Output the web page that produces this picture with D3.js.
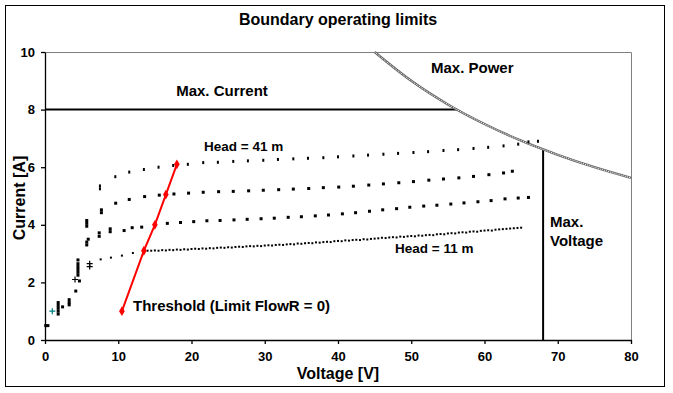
<!DOCTYPE html>
<html>
<head>
<meta charset="utf-8">
<script src="https://cdn.jsdelivr.net/npm/d3@7"></script>
<style>
  body { margin: 0; background: #fff; }
  text { font-family: Arial, "Liberation Sans", sans-serif; font-weight: bold; fill: #000; }
</style>
</head>
<body>
<svg id="chart" width="673" height="393"></svg>
<script>
// axis ticks
const xTicks = [0, 10, 20, 30, 40, 50, 60, 70, 80];
const yTicks = [0, 2, 4, 6, 8, 10];

// measured points [voltage, current] per pump head
const head41 = [[7.5,5.25],[7.5,5.35],[9.6,5.67],[11.5,5.83],[13.5,5.92],[15.5,6.0],[17.5,6.06],[19.5,6.1],
  [21.6,6.16],[23.6,6.17],[25.7,6.2],[27.7,6.22],[29.8,6.24],[31.8,6.27],[33.9,6.29],[35.9,6.31],[38.0,6.33],
  [40.0,6.36],[42.1,6.39],[44.1,6.42],[46.2,6.45],[48.2,6.48],[50.3,6.51],[52.3,6.54],[54.4,6.58],[56.4,6.61],
  [58.5,6.65],[60.5,6.69],[62.6,6.74],[64.6,6.8],[66.0,6.88],[67.3,6.9]];
const head31 = [[7.7,4.42],[7.7,4.52],[9.65,4.75],[11.5,4.88],[13.6,4.98],[15.6,5.03],[17.6,5.07],[19.6,5.1],
  [21.6,5.13],[23.7,5.15],[25.7,5.16],[27.8,5.18],[29.8,5.2],[31.9,5.22],[33.9,5.24],[36.0,5.26],[38.0,5.29],
  [40.1,5.31],[42.1,5.34],[44.2,5.38],[46.2,5.42],[48.3,5.46],[50.3,5.5],[52.4,5.55],[54.4,5.59],[56.5,5.63],
  [58.5,5.68],[60.6,5.74],[62.6,5.8],[63.8,5.86]];
const head21 = [[7.4,3.6],[7.4,3.72],[8.9,3.76],[8.9,3.86],[10.8,3.8],[11.9,3.9],[13.2,3.92],[15.0,4.0],
  [16.7,4.05],[18.5,4.08],[20.3,4.11],[22.1,4.14],[23.9,4.15],[25.8,4.17],[27.6,4.19],[29.5,4.21],[31.3,4.23],
  [33.2,4.26],[35.0,4.28],[36.9,4.31],[38.7,4.34],[40.6,4.38],[42.4,4.42],[44.3,4.47],[46.1,4.52],[48.0,4.56],
  [49.8,4.61],[51.7,4.65],[53.5,4.68],[55.4,4.72],[57.2,4.76],[59.1,4.8],[60.9,4.84],[62.8,4.9],[64.6,4.93],[66.0,4.95]];
const head11 = [[7.6,2.8],[9.0,2.86],[10.5,2.93],[12.0,3.02],[13.5,3.08],
  [14.0,3.1],[14.5,3.1],[15.0,3.11],[15.5,3.1],[16.0,3.12],[16.5,3.11],[17.0,3.13],[17.5,3.12],[18.0,3.14],
  [18.5,3.13],[19.0,3.15],[19.5,3.14],[20.0,3.16],[20.5,3.17],[21.0,3.16],[21.5,3.18],[22.0,3.17],[22.5,3.19],
  [23.0,3.18],[23.5,3.2],[24.0,3.21],[24.5,3.2],[25.0,3.22],[25.5,3.21],[26.0,3.23],[26.5,3.24],[27.0,3.23],
  [27.5,3.25],[28.0,3.26],[28.5,3.25],[29.0,3.27],[29.5,3.26],[30.0,3.28],[30.5,3.29],[31.0,3.28],[31.5,3.3],
  [32.0,3.31],[32.5,3.3],[33.0,3.32],[33.5,3.33],[34.0,3.32],[34.5,3.35],[35.0,3.34],[35.5,3.36],[36.0,3.37],
  [36.5,3.36],[37.0,3.39],[37.5,3.38],[38.0,3.4],[38.5,3.41],[39.0,3.4],[39.5,3.43],[40.0,3.44],[40.5,3.43],
  [41.0,3.46],[41.5,3.45],[42.0,3.47],[42.5,3.48],[43.0,3.47],[43.5,3.5],[44.0,3.49],[44.5,3.51],[45.0,3.52],
  [45.5,3.53],[46.0,3.55],[46.5,3.54],[47.0,3.56],[47.5,3.57],[48.0,3.56],[48.5,3.59],[49.0,3.58],[49.5,3.6],
  [50.0,3.61],[50.5,3.6],[51.0,3.63],[51.5,3.62],[52.0,3.64],[52.5,3.65],[53.0,3.64],[53.5,3.67],[54.0,3.68],
  [54.5,3.67],[55.0,3.7],[55.5,3.71],[56.0,3.7],[56.5,3.73],[57.0,3.74],[57.5,3.73],[58.0,3.76],[58.5,3.77],
  [59.0,3.76],[59.5,3.79],[60.0,3.8],[60.5,3.81],[61.0,3.8],[61.5,3.83],[62.0,3.84],[62.5,3.85],[63.0,3.86],
  [63.5,3.87],[64.0,3.88],[64.5,3.89],[65.0,3.9]];
// start-up points at low voltage
const startup = [[0.1,0.5],[0.4,0.5],[1.8,0.9],[1.8,1.0],[1.8,1.1],[1.8,1.2],[1.8,1.3],[2.4,1.15],[3.3,1.22],
  [3.3,1.3],[3.3,1.4],[4.2,1.7],[4.7,2.05],[4.5,2.25],[4.5,2.35],[4.5,2.45],[4.5,2.55],[4.5,2.65],[4.5,2.78],
  [5.7,3.3],[5.7,3.4],[5.9,3.5],[5.7,3.95],[5.7,4.05],[5.7,4.15]];
const crosses = [[4.1,2.1],[6.1,2.55],[6.1,2.65]];
const tealCross = [[1.0,1.0]];

// threshold (limit flow rate = 0)
const thresholdV = [10.5, 13.5, 15.0, 16.5, 18.0];
const thresholdI = [1.0, 3.1, 4.0, 5.05, 6.1];

// operating limits
const maxCurrent = 8;
const maxVoltage = 68;
const powerV = [45, 50, 55, 60, 65, 70, 75, 80];
const powerI = [10, 9.0, 8.18, 7.5, 6.92, 6.43, 6.0, 5.63];

const svg = d3.select('#chart');
const x = d3.scaleLinear().domain([0, 80]).range([45, 631]);
const y = d3.scaleLinear().domain([0, 10]).range([340, 52]);

// outer frame
svg.append('rect')
    .attr('x', 5.5).attr('y', 5.5).attr('width', 659).attr('height', 381)
    .attr('fill', 'none').attr('stroke', '#000').attr('stroke-width', 1);

// plot frame (top/right grey)
svg.append('path')
    .attr('d', `M${x(0)},${y(10) + 0.5}H${x(80) + 0.5}V${y(0)}`)
    .attr('fill', 'none').attr('stroke', '#808080').attr('stroke-width', 1);

svg.append('text')
    .attr('x', 338).attr('y', 25).attr('text-anchor', 'middle')
    .style('font-size', '16px').text('Boundary operating limits');

// axes
const xAxis = svg.append('g')
    .attr('transform', `translate(0,${y(0)})`)
    .call(d3.axisBottom(x).tickValues(xTicks).tickSize(4).tickSizeOuter(0).tickPadding(8));
const yAxis = svg.append('g')
    .attr('transform', `translate(${x(0)},0)`)
    .call(d3.axisLeft(y).tickValues(yTicks).tickSize(4).tickSizeOuter(0).tickPadding(6));
[xAxis, yAxis].forEach(g => {
    g.selectAll('path, line').attr('stroke', '#000').attr('stroke-width', 1.3);
    g.selectAll('text').style('font-size', '13px').style('font-family', 'Arial, "Liberation Sans", sans-serif')
        .style('font-weight', 'bold').attr('fill', '#000');
});

svg.append('text')
    .attr('x', 338).attr('y', 379).attr('text-anchor', 'middle')
    .style('font-size', '16px').text('Voltage [V]');
svg.append('text')
    .attr('transform', 'translate(25,198) rotate(-90)').attr('text-anchor', 'middle')
    .style('font-size', '16px').text('Current [A]');

// limit lines
svg.append('line')
    .attr('x1', x(0)).attr('x2', x(450 / maxCurrent))
    .attr('y1', y(maxCurrent)).attr('y2', y(maxCurrent))
    .attr('stroke', '#000').attr('stroke-width', 2);
svg.append('line')
    .attr('x1', x(maxVoltage)).attr('x2', x(maxVoltage))
    .attr('y1', y(0)).attr('y2', y(450 / maxVoltage))
    .attr('stroke', '#000').attr('stroke-width', 2);

const powerLine = d3.line().x(d => x(d[0])).y(d => y(d[1])).curve(d3.curveMonotoneX);
const powerPts = powerV.map((v, i) => [v, powerI[i]]);
svg.append('path').attr('d', powerLine(powerPts))
    .attr('fill', 'none').attr('stroke', '#666').attr('stroke-width', 2.4);
svg.append('path').attr('d', powerLine(powerPts))
    .attr('fill', 'none').attr('stroke', '#fff').attr('stroke-width', 1).attr('stroke-dasharray', '1,1');

// measured points
function marks(data, w, h) {
    svg.append('g').selectAll('rect').data(data).join('rect')
        .attr('x', d => x(d[0]) - w / 2).attr('y', d => y(d[1]) - h / 2)
        .attr('width', w).attr('height', h).attr('fill', '#000');
}
marks(head41, 2, 3);
marks(head31, 3, 3);
marks(head21, 3, 3);
marks(head11, 2, 2);
marks(startup, 3, 3);

function plus(data, color) {
    svg.append('g').selectAll('path').data(data).join('path')
        .attr('d', d => `M${x(d[0]) - 3},${y(d[1])}h6M${x(d[0])},${y(d[1]) - 3}v6`)
        .attr('stroke', color).attr('stroke-width', 1.2);
}
plus(crosses, '#000');
plus(tealCross, '#008080');

// threshold line
const thr = thresholdV.map((v, i) => [v, thresholdI[i]]);
svg.append('path').attr('d', d3.line().x(d => x(d[0])).y(d => y(d[1]))(thr))
    .attr('fill', 'none').attr('stroke', '#ff0000').attr('stroke-width', 2);
svg.append('g').selectAll('path').data(thr).join('path')
    .attr('transform', d => `translate(${x(d[0])},${y(d[1])})`)
    .attr('d', d3.symbol().type(d3.symbolDiamond).size(28))
    .attr('fill', '#ff0000');

// annotations
const notes = [
    ['Max. Current', 222, 96, 'middle', 15],
    ['Max. Power', 431, 73, 'start', 15],
    ['Max.', 550, 227, 'start', 15],
    ['Voltage', 550, 246, 'start', 15],
    ['Head = 41 m', 204, 151, 'start', 13.5],
    ['Head = 11 m', 395, 253, 'start', 13.5],
    ['Threshold (Limit FlowR = 0)', 133, 311, 'start', 15]
];
svg.append('g').selectAll('text').data(notes).join('text')
    .attr('x', d => d[1]).attr('y', d => d[2]).attr('text-anchor', d => d[3])
    .style('font-size', d => d[4] + 'px').text(d => d[0]);
</script>
</body>
</html>
